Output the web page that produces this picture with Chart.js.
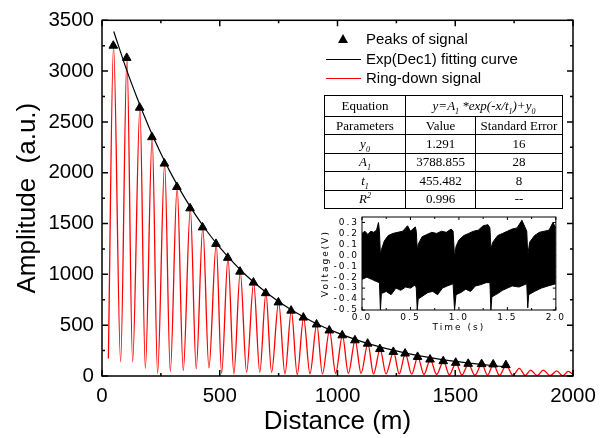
<!DOCTYPE html>
<html>
<head>
<meta charset="utf-8">
<script src="https://cdn.jsdelivr.net/npm/chart.js@4.4.1/dist/chart.umd.min.js"></script>
<style>
  body { margin: 0; background: #fff; }
  #wrap { position: relative; width: 604px; height: 438px; overflow: hidden; }
  #main { position: absolute; left: 0; top: 0; }
  #inset { position: absolute; left: 310px; top: 208px; }
  .leg { position: absolute; font-family: "Liberation Sans", Arial, sans-serif; font-size: 15px; line-height: 18px; color: #000; white-space: nowrap; }
  .ln { position: absolute; width: 35px; height: 1.3px; }
  .tri { position: absolute; width: 0; height: 0; border-left: 5px solid transparent; border-right: 5px solid transparent; border-bottom: 9px solid #000; }
  #tbl { position: absolute; left: 324px; top: 95px; width: 238px; border-collapse: collapse; table-layout: fixed;
         font-family: "Liberation Serif", "Times New Roman", serif; font-size: 13px; color: #000; }
  #tbl td { border: 1px solid #000; text-align: center; padding: 0; height: 17.4px; line-height: 14px; }
  #tbl tr.first td { height: 20px; }
  #tbl sub, #tbl sup { font-size: 8px; line-height: 0; }
</style>
</head>
<body>
<div id="wrap">
  <canvas id="main" width="604" height="438"></canvas>
  <canvas id="inset" width="258" height="130"></canvas>

  <div class="tri" style="left:338px;top:34px"></div>
  <div class="leg" style="left:366px;top:30px">Peaks of signal</div>
  <div class="ln" style="left:326px;top:58.5px;background:#000"></div>
  <div class="leg" style="left:366px;top:50px">Exp(Dec1) fitting curve</div>
  <div class="ln" style="left:326px;top:77.5px;background:#ff0000"></div>
  <div class="leg" style="left:366px;top:69px">Ring-down signal</div>

  <table id="tbl">
    <colgroup><col style="width:81px"><col style="width:70px"><col style="width:87px"></colgroup>
    <tr class="first"><td>Equation</td><td colspan="2"><i>y=A<sub>1</sub> *exp(-x/t<sub>1</sub>)+y<sub>0</sub></i></td></tr>
    <tr><td>Parameters</td><td>Value</td><td>Standard Error</td></tr>
    <tr><td><i>y<sub>0</sub></i></td><td>1.291</td><td>16</td></tr>
    <tr><td><i>A<sub>1</sub></i></td><td>3788.855</td><td>28</td></tr>
    <tr><td><i>t<sub>1</sub></i></td><td>455.482</td><td>8</td></tr>
    <tr><td><i>R<sup>2</sup></i></td><td>0.996</td><td>--</td></tr>
  </table>
</div>

<script>
// main chart: tick labels
const xTicks = [0, 500, 1000, 1500, 2000];
const yTicks = [0, 500, 1000, 1500, 2000, 2500, 3000, 3500];

// peaks of signal (triangles)
const peakX = [48, 105, 160, 212, 265, 318, 374, 427, 484, 534, 586, 643, 695, 749, 803, 855,
               911, 965, 1020, 1074, 1128, 1180, 1237, 1287, 1340, 1393, 1449, 1502, 1555, 1612, 1661, 1715];
const peakY = [3250, 3130, 2640, 2350, 2090, 1860, 1650, 1462, 1300, 1163, 1027, 919, 815, 724, 643, 575,
               507, 448, 400, 351, 318, 265, 237, 221, 188, 162, 146, 130, 120, 117, 114, 107];

// exp(dec1) fitting curve
const fitX = [50, 100, 150, 200, 250, 300, 350, 400, 450, 500, 600, 700, 800, 900, 1000, 1100, 1200, 1300, 1400, 1500, 1600, 1715];
const fitY = [3390, 3042, 2731, 2446, 2190, 1962, 1758, 1576, 1412, 1265, 1016, 816, 656, 527, 424, 341, 274, 221, 178, 143, 116, 90];

// ring-down signal: start, then alternating peak / trough
const ringX = [27, 49, 79, 106, 130, 161, 184, 213, 236, 266, 290, 319, 345, 375, 400, 428, 454, 485, 508, 535, 560,
               587, 614, 644, 670, 696, 720, 750, 777, 804, 829, 856, 883, 912, 936, 966, 992, 1021, 1046, 1075,
               1100, 1129, 1153, 1181, 1206, 1238, 1262, 1288, 1315, 1341, 1367, 1394, 1421, 1450, 1475, 1503,
               1528, 1556, 1583, 1613, 1637, 1662, 1688, 1716, 1745, 1772, 1797, 1820, 1848, 1874, 1903, 1931,
               1956, 1980, 2000];
const ringY = [172, 3250, 140, 3130, 140, 2640, 75, 2350, 26, 2090, 45, 1860, 55, 1650, 72, 1462, 80, 1300, 28, 1163, 22,
               1027, 35, 919, 35, 815, 35, 724, 20, 643, 13, 575, 22, 507, 20, 448, 26, 400, 26, 351,
               26, 318, 20, 265, 20, 237, 20, 221, 18, 188, 15, 162, 15, 146, 12, 130,
               10, 120, 8, 117, 8, 114, 6, 107, 5, 75, 5, 58, 4, 58, 4, 50,
               3, 45, 15];

// inset: voltage vs time, envelope of the dense trace
const insetXTicks = [0, 0.5, 1.0, 1.5, 2.0];
const insetYTicks = [-0.5, -0.4, -0.3, -0.2, -0.1, 0, 0.1, 0.2, 0.3];
const upT = [0, 0.03, 0.06, 0.09, 0.12, 0.15, 0.17, 0.18, 0.19, 0.2, 0.23, 0.27, 0.32, 0.37, 0.42, 0.47, 0.5, 0.55, 0.56,
             0.57, 0.58, 0.62, 0.67, 0.72, 0.77, 0.82, 0.87, 0.92, 0.94, 0.955, 0.97, 1.0, 1.05, 1.1, 1.15, 1.2, 1.25,
             1.3, 1.32, 1.33, 1.35, 1.4, 1.45, 1.5, 1.55, 1.6, 1.65, 1.68, 1.7, 1.71, 1.73, 1.78, 1.83, 1.88, 1.93, 1.97, 2.0];
const upV = [0.20, 0.22, 0.19, 0.22, 0.21, 0.23, 0.30, 0.22, 0.0, 0.05, 0.13, 0.18, 0.20, 0.21, 0.22, 0.27, 0.22, 0.26, 0.22,
             0.05, 0.10, 0.17, 0.19, 0.21, 0.20, 0.22, 0.21, 0.24, 0.22, -0.02, 0.08, 0.14, 0.18, 0.20, 0.22, 0.23, 0.27,
             0.28, 0.25, 0.06, 0.12, 0.18, 0.20, 0.22, 0.24, 0.25, 0.32, 0.26, 0.22, 0.0, 0.12, 0.18, 0.21, 0.22, 0.23, 0.30, 0.25];
const loT = [0, 0.05, 0.1, 0.15, 0.18, 0.19, 0.2, 0.25, 0.3, 0.35, 0.4, 0.45, 0.5, 0.55, 0.56, 0.57, 0.58, 0.63, 0.68, 0.73,
             0.78, 0.83, 0.88, 0.94, 0.955, 0.97, 1.02, 1.07, 1.12, 1.17, 1.22, 1.28, 1.32, 1.33, 1.34, 1.4, 1.45, 1.5,
             1.55, 1.62, 1.7, 1.71, 1.72, 1.78, 1.85, 1.92, 2.0];
const loV = [-0.22, -0.20, -0.22, -0.24, -0.25, -0.50, -0.35, -0.33, -0.36, -0.30, -0.32, -0.29, -0.30, -0.27, -0.30, -0.50, -0.40, -0.37, -0.34, -0.33,
             -0.36, -0.30, -0.28, -0.26, -0.50, -0.36, -0.34, -0.31, -0.33, -0.28, -0.27, -0.25, -0.25, -0.50, -0.38, -0.35, -0.32, -0.30,
             -0.28, -0.29, -0.26, -0.48, -0.36, -0.33, -0.30, -0.28, -0.26];

const pts = (xs, ys) => xs.map((x, i) => ({ x: x, y: ys[i] }));
const mids = arr => arr.slice(1).map((v, i) => (v + arr[i]) / 2);

// frame round the plot with inward ticks on all four sides
const frameTicks = {
  id: 'frameTicks',
  afterDatasetsDraw(chart, args, o) {
    const { ctx, chartArea: a, scales: { x, y } } = chart;
    ctx.save();
    ctx.strokeStyle = '#000';
    ctx.lineWidth = o.width;
    ctx.beginPath();
    const xt = (vals, len) => vals.forEach(v => {
      const p = x.getPixelForValue(v);
      ctx.moveTo(p, a.bottom); ctx.lineTo(p, a.bottom - len);
      ctx.moveTo(p, a.top); ctx.lineTo(p, a.top + len);
    });
    const yt = (vals, len) => vals.forEach(v => {
      const p = y.getPixelForValue(v);
      ctx.moveTo(a.left, p); ctx.lineTo(a.left + len, p);
      ctx.moveTo(a.right, p); ctx.lineTo(a.right - len, p);
    });
    xt(o.xMajor, o.major); xt(o.xMinor, o.minor);
    yt(o.yMajor, o.major); yt(o.yMinor, o.minor);
    ctx.stroke();
    ctx.strokeRect(a.left, a.top, a.right - a.left, a.bottom - a.top);
    ctx.restore();
  }
};

const sans = '"Liberation Sans", Arial, sans-serif';
const noGrid = { display: false, drawTicks: false };

new Chart(document.getElementById('main'), {
  type: 'line',
  data: {
    datasets: [
      { label: 'Peaks of signal', data: pts(peakX, peakY), showLine: false, pointStyle: 'triangle',
        pointRadius: 5, backgroundColor: '#000', borderColor: '#000', borderWidth: 1 },
      { label: 'Exp(Dec1) fitting curve', data: pts(fitX, fitY), borderColor: '#000', borderWidth: 1.2,
        pointRadius: 0, cubicInterpolationMode: 'monotone', fill: false },
      { label: 'Ring-down signal', data: pts(ringX, ringY), borderColor: '#ff0000', borderWidth: 1.3,
        pointRadius: 0, cubicInterpolationMode: 'monotone', fill: false }
    ]
  },
  options: {
    responsive: false,
    animation: false,
    devicePixelRatio: 1,
    layout: { padding: { top: 17, right: 31, left: 0, bottom: 0 } },
    plugins: {
      legend: { display: false },
      tooltip: { enabled: false },
      frameTicks: { width: 1.5, major: 6, minor: 3, xMajor: xTicks, xMinor: mids(xTicks), yMajor: yTicks, yMinor: mids(yTicks) }
    },
    scales: {
      x: {
        type: 'linear', min: 0, max: 2000,
        afterBuildTicks: s => { s.ticks = xTicks.map(v => ({ value: v })); },
        afterFit: s => { s.height = 62; },
        grid: noGrid, border: { display: false },
        ticks: { color: '#000', font: { family: sans, size: 20.5 }, padding: 8, maxRotation: 0, autoSkip: false, callback: v => String(v) },
        title: { display: true, text: 'Distance (m)', color: '#000', font: { family: sans, size: 26 }, padding: { top: 0, bottom: 1 } }
      },
      y: {
        type: 'linear', min: 0, max: 3500,
        afterBuildTicks: s => { s.ticks = yTicks.map(v => ({ value: v })); },
        afterFit: s => { s.width = 102; },
        grid: noGrid, border: { display: false },
        ticks: { color: '#000', font: { family: sans, size: 20.5 }, padding: 8, autoSkip: false, callback: v => String(v) },
        title: { display: true, text: 'Amplitude  (a.u.)', color: '#000', font: { family: sans, size: 26 }, padding: { top: 12, bottom: 0 } }
      }
    }
  },
  plugins: [frameTicks]
});

// inset labels are drawn with wide letter spacing
const spaced = {
  id: 'spaced',
  beforeLayout(c) { c.ctx.letterSpacing = '2px'; },
  beforeDraw(c) { c.ctx.letterSpacing = '2px'; }
};

const small = { family: '"DejaVu Sans", sans-serif', size: 9 };

new Chart(document.getElementById('inset'), {
  type: 'line',
  data: {
    datasets: [
      { data: pts(upT, upV), borderColor: '#000', borderWidth: 1, pointRadius: 0, fill: '+1', backgroundColor: '#000' },
      { data: pts(loT, loV), borderColor: '#000', borderWidth: 1, pointRadius: 0, fill: false }
    ]
  },
  options: {
    responsive: false,
    animation: false,
    devicePixelRatio: 1,
    layout: { padding: { top: 9, right: 8, left: 0, bottom: 0 } },
    plugins: {
      legend: { display: false },
      tooltip: { enabled: false },
      frameTicks: { width: 1, major: 3, minor: 2, xMajor: insetXTicks, xMinor: mids(insetXTicks), yMajor: insetYTicks, yMinor: [] }
    },
    scales: {
      x: {
        type: 'linear', min: 0, max: 2,
        afterBuildTicks: s => { s.ticks = insetXTicks.map(v => ({ value: v })); },
        afterFit: s => { s.height = 28; },
        grid: noGrid, border: { display: false },
        ticks: { color: '#000', font: small, padding: 2, maxRotation: 0, autoSkip: false, callback: v => v.toFixed(1) },
        title: { display: true, text: 'Time (s)', color: '#000', font: small, padding: { top: 0, bottom: 5 } }
      },
      y: {
        type: 'linear', min: -0.5, max: 0.35,
        afterBuildTicks: s => { s.ticks = insetYTicks.map(v => ({ value: v })); },
        afterFit: s => { s.width = 52; },
        grid: noGrid, border: { display: false },
        ticks: { color: '#000', font: small, padding: 3, autoSkip: false, callback: v => v.toFixed(1) },
        title: { display: true, text: 'Voltage(V)', color: '#000', font: small, padding: { top: 10, bottom: 0 } }
      }
    }
  },
  plugins: [spaced, frameTicks]
});
</script>
</body>
</html>
